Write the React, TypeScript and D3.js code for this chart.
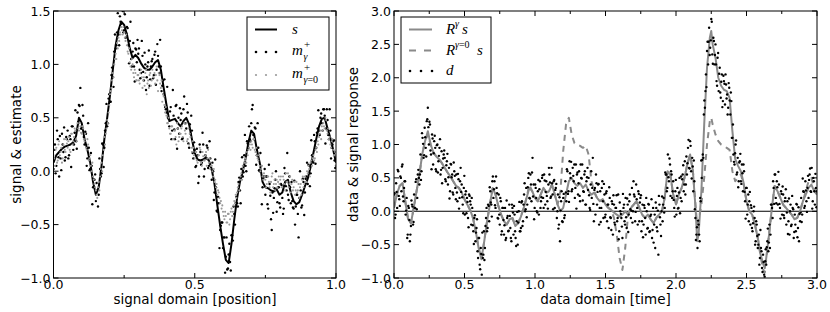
import React from "react";
import * as d3 from "d3";

// ---------- Left panel: signal s on [0,1] (101 grid values) ----------
const signalS = [
  0.08, 0.15, 0.18, 0.21, 0.23, 0.24, 0.25, 0.27, 0.33, 0.5,
  0.45, 0.3, 0.2, 0.08, -0.1, -0.22, -0.15, 0.05, 0.3, 0.5,
  0.71, 0.95, 1.18, 1.32, 1.4, 1.37, 1.28, 1.15, 1.06, 1.09,
  1.06, 1.01, 0.97, 0.95, 0.95, 0.98, 1.02, 1.04, 0.95, 0.78,
  0.62, 0.47, 0.48, 0.49, 0.45, 0.42, 0.47, 0.5, 0.44, 0.3,
  0.17, 0.11, 0.1, 0.11, 0.13, 0.1, 0.02, -0.12, -0.32, -0.51,
  -0.68, -0.83, -0.86, -0.68, -0.45, -0.25, -0.1, 0.0, 0.12, 0.27,
  0.38, 0.35, 0.2, 0.08, -0.1, -0.15, -0.16, -0.18, -0.19, -0.17,
  -0.22, -0.2, -0.1, -0.08, -0.2, -0.28, -0.31, -0.29, -0.22, -0.14,
  -0.07, 0.04, 0.17, 0.3, 0.42, 0.49, 0.5, 0.4, 0.31, 0.2,
  0.08,
];

// m_gamma^+ estimate, at t = i/200 (201 values)
const mGamma = [
  0.02, 0.25, 0.05, 0.3, -0.05, 0.12, 0.35, 0.18, 0.1, 0.32,
  0.38, 0.15, 0.3, 0.42, 0.2, 0.36, 0.28, 0.55, 0.62, 0.78,
  0.4, 0.52, 0.25, 0.35, 0.12, 0.22, 0.02, 0.05, -0.15, -0.08,
  -0.28, -0.18, -0.22, 0.02, -0.02, 0.25, 0.22, 0.45, 0.42, 0.68,
  0.65, 0.9, 0.88, 1.12, 1.15, 1.3, 1.28, 1.45, 1.38, 1.5,
  1.32, 1.25, 1.35, 1.18, 1.22, 1.05, 1.12, 0.98, 1.15, 1.02,
  1.1, 0.95, 0.92, 1.08, 0.85, 1.0, 0.88, 1.02, 0.8, 0.98,
  1.05, 0.9, 1.12, 0.95, 1.08, 0.92, 0.98, 0.8, 0.72, 0.6,
  0.55, 0.5, 0.42, 0.6, 0.38, 0.52, 0.3, 0.62, 0.4, 0.35,
  0.48, 0.3, 0.58, 0.45, 0.4, 0.55, 0.22, 0.35, 0.38, 0.12,
  0.2, 0.05, 0.15, -0.05, 0.18, 0.08, 0.25, 0.02, 0.12, 0.22,
  0.05, 0.12, -0.08, 0.0, -0.2, -0.15, -0.38, -0.3, -0.55, -0.48,
  -0.72, -0.62, -0.8, -0.92, -0.78, -0.85, -0.6, -0.65, -0.4, -0.3,
  -0.3, -0.1, -0.18, 0.02, -0.05, 0.15, 0.05, 0.28, 0.22, 0.3,
  0.45, 0.62, 0.3, 0.4, 0.15, 0.22, 0.0, 0.05, -0.15, -0.05,
  -0.22, -0.05, -0.35, -0.12, -0.45, -0.2, -0.25, -0.08, -0.38, -0.15,
  -0.3, -0.12, -0.25, -0.35, -0.02, -0.18, -0.22, -0.05, -0.3, -0.28,
  -0.35, -0.5, -0.22, -0.4, -0.25, -0.18, -0.32, -0.1, -0.2, -0.05,
  -0.12, 0.05, -0.02, 0.15, 0.08, 0.28, 0.22, 0.4, 0.38, 0.5,
  0.45, 0.58, 0.52, 0.4, 0.48, 0.3, 0.38, 0.22, 0.28, 0.1,
  0.05,
];
// m_gamma^+ estimate, at t = (i+0.5)/200 (200 values)
const mGammaMid = [
  0.2, -0.02, 0.38, 0.13, 0.33, 0.01, 0.25, 0.41, 0.13, 0.3,
  0.12, 0.33, 0.04, 0.42, 0.25, 0.57, 0.21, 0.46, 0.61, 0.4,
  0.62, 0.32, 0.37, 0.05, 0.45, 0.01, 0.17, -0.31, -0.08, -0.03,
  -0.11, -0.33, 0.12, -0.05, 0.26, 0.04, 0.38, 0.63, 0.45, 0.72,
  0.65, 0.97, 0.79, 1.28, 1.18, 1.48, 1.18, 1.4, 1.52, 1.3,
  1.47, 1.29, 1.34, 1.01, 1.4, 0.98, 1.2, 0.84, 1.14, 1.23,
  1.15, 0.87, 1.22, 0.93, 1.11, 0.76, 0.98, 1.13, 0.86, 1.03,
  0.87, 1.09, 0.81, 1.19, 0.98, 1.23, 0.75, 0.85, 0.86, 0.58,
  0.79, 0.49, 0.56, 0.3, 0.76, 0.39, 0.61, 0.21, 0.5, 0.59,
  0.54, 0.31, 0.7, 0.45, 0.63, 0.26, 0.44, 0.52, 0.17, 0.27,
  0.04, 0.21, -0.11, 0.25, 0.06, 0.36, -0.05, 0.15, 0.24, 0.03,
  0.28, 0.02, 0.08, -0.27, 0.11, -0.37, -0.24, -0.72, -0.51, -0.48,
  -0.62, -0.95, -0.62, -0.91, -0.68, -0.93, -0.6, -0.33, -0.5, -0.24,
  -0.33, -0.06, -0.3, 0.13, -0.01, 0.34, 0.0, 0.26, 0.42, 0.28,
  0.58, 0.34, 0.41, 0.06, 0.45, 0.01, 0.17, -0.31, -0.07, 0.02,
  -0.05, -0.31, 0.06, -0.23, -0.55, -0.39, -0.16, 0.0, -0.29, -0.15,
  -0.34, -0.13, -0.4, 0.03, -0.14, 0.17, -0.27, -0.15, -0.1, -0.34,
  -0.09, -0.33, -0.22, -0.62, 0.0, -0.34, -0.07, -0.41, -0.07, 0.08,
  0.06, -0.14, 0.29, 0.09, 0.34, 0.07, 0.36, 0.57, 0.34, 0.54,
  0.38, 0.58, 0.26, 0.58, 0.34, 0.58, 0.12, 0.25, 0.29, 0.03,
];

// m_{gamma=0}^+ estimate, at t = i/200 (201 values)
const mGamma0 = [
  0.15, 0.05, 0.22, 0.1, 0.28, 0.18, 0.08, 0.25, 0.2, 0.3,
  0.22, 0.32, 0.18, 0.35, 0.28, 0.4, 0.3, 0.45, 0.38, 0.42,
  0.35, 0.4, 0.28, 0.22, 0.3, 0.1, 0.15, 0.0, -0.05, -0.12,
  -0.18, -0.25, -0.1, -0.05, 0.08, 0.15, 0.32, 0.35, 0.48, 0.55,
  0.72, 0.78, 0.92, 1.0, 1.1, 1.2, 1.25, 1.3, 1.35, 1.28,
  1.3, 1.22, 1.18, 1.1, 1.02, 0.95, 1.0, 0.88, 0.92, 0.85,
  0.9, 0.82, 0.95, 0.78, 0.88, 0.92, 0.72, 0.85, 0.9, 0.8,
  0.95, 0.88, 0.82, 0.98, 0.75, 0.9, 0.78, 0.65, 0.7, 0.55,
  0.52, 0.45, 0.4, 0.35, 0.42, 0.3, 0.38, 0.25, 0.4, 0.32,
  0.35, 0.42, 0.28, 0.38, 0.45, 0.3, 0.25, 0.32, 0.18, 0.22,
  0.12, 0.18, 0.08, 0.15, 0.2, 0.05, 0.14, 0.1, 0.18, 0.12,
  0.08, 0.02, 0.05, -0.05, -0.1, -0.15, -0.22, -0.2, -0.3, -0.35,
  -0.38, -0.45, -0.42, -0.48, -0.4, -0.45, -0.35, -0.38, -0.28, -0.22,
  -0.2, -0.12, -0.08, -0.02, 0.05, 0.08, 0.12, 0.18, 0.2, 0.25,
  0.28, 0.22, 0.3, 0.18, 0.15, 0.1, 0.05, 0.02, -0.05, -0.02,
  -0.08, -0.12, -0.05, -0.15, -0.1, -0.02, -0.12, -0.18, -0.08, -0.1,
  -0.12, -0.05, -0.15, -0.08, -0.18, -0.1, -0.02, -0.12, -0.2, -0.08,
  -0.15, -0.22, -0.1, -0.18, -0.25, -0.12, -0.08, -0.15, -0.05, -0.1,
  -0.02, 0.02, 0.08, 0.05, 0.15, 0.12, 0.22, 0.28, 0.32, 0.38,
  0.42, 0.45, 0.4, 0.48, 0.35, 0.3, 0.25, 0.28, 0.2, 0.15,
  0.05,
];
// m_{gamma=0}^+ estimate, at t = (i+0.5)/200 (200 values)
const mGamma0Mid = [
  0.12, 0.2, 0.08, 0.25, 0.15, 0.22, 0.12, 0.3, 0.18, 0.26,
  0.28, 0.2, 0.35, 0.25, 0.32, 0.38, 0.28, 0.4, 0.45, 0.36,
  0.42, 0.3, 0.35, 0.2, 0.25, 0.12, 0.05, 0.08, -0.08, -0.15,
  -0.22, -0.15, -0.18, 0.02, 0.0, 0.2, 0.25, 0.4, 0.45, 0.62,
  0.75, 0.85, 0.88, 1.05, 1.05, 1.15, 1.22, 1.28, 1.32, 1.35,
  1.25, 1.28, 1.12, 1.15, 0.98, 1.05, 0.92, 0.95, 0.85, 0.9,
  0.85, 0.92, 0.88, 0.85, 0.8, 0.95, 0.82, 0.78, 0.92, 0.85,
  0.88, 0.92, 0.9, 0.85, 0.92, 0.82, 0.85, 0.72, 0.62, 0.6,
  0.45, 0.5, 0.35, 0.42, 0.3, 0.38, 0.32, 0.45, 0.28, 0.35,
  0.4, 0.32, 0.45, 0.35, 0.28, 0.4, 0.35, 0.22, 0.28, 0.15,
  0.18, 0.1, 0.15, 0.22, 0.08, 0.18, 0.1, 0.15, 0.05, 0.2,
  0.12, 0.05, 0.0, 0.02, -0.08, -0.12, -0.18, -0.25, -0.28, -0.32,
  -0.42, -0.38, -0.48, -0.4, -0.5, -0.38, -0.42, -0.32, -0.3, -0.25,
  -0.15, -0.18, -0.05, -0.08, 0.02, 0.1, 0.08, 0.15, 0.22, 0.2,
  0.25, 0.3, 0.2, 0.22, 0.12, 0.15, 0.0, 0.05, -0.08, -0.05,
  -0.15, -0.05, -0.1, -0.2, -0.05, -0.15, -0.08, -0.12, -0.15, -0.05,
  -0.08, -0.15, -0.05, -0.12, -0.02, -0.1, -0.15, -0.05, -0.12, -0.18,
  -0.1, -0.18, -0.2, -0.12, -0.15, -0.22, -0.05, -0.12, -0.1, 0.0,
  0.05, -0.05, 0.1, 0.12, 0.1, 0.2, 0.18, 0.25, 0.35, 0.3,
  0.38, 0.42, 0.5, 0.38, 0.4, 0.32, 0.22, 0.3, 0.15, 0.18,
];

// ---------- Right panel: responses on [0,3] ----------
const respGamma: [number, number][] = [
  [0, 0.05], [0.02, 0.25], [0.04, 0.38], [0.06, 0.42], [0.08, 0.15], [0.1, -0.12], [0.12, -0.18], [0.14, 0.05],
  [0.16, 0.3], [0.18, 0.55], [0.2, 0.85], [0.22, 1.05], [0.24, 1.2], [0.26, 1.0], [0.28, 0.88], [0.3, 0.82],
  [0.32, 0.78], [0.34, 0.72], [0.36, 0.65], [0.38, 0.58], [0.4, 0.52], [0.42, 0.45], [0.44, 0.38], [0.46, 0.35],
  [0.48, 0.28], [0.5, 0.18], [0.52, 0.1], [0.54, 0.02], [0.56, -0.1], [0.58, -0.3], [0.6, -0.55], [0.62, -0.72],
  [0.64, -0.45], [0.66, -0.15], [0.68, 0.1], [0.7, 0.35], [0.72, 0.25], [0.74, 0.08], [0.76, -0.05], [0.78, -0.15],
  [0.8, -0.2], [0.82, -0.12], [0.84, -0.1], [0.86, -0.22], [0.88, -0.18], [0.9, -0.08], [0.92, 0.05], [0.94, 0.2],
  [0.96, 0.35], [0.98, 0.3], [1.0, 0.2], [1.02, 0.15], [1.04, 0.25], [1.06, 0.35], [1.08, 0.28], [1.1, 0.3],
  [1.12, 0.4], [1.14, 0.25], [1.16, 0.1], [1.18, 0.0], [1.2, 0.05], [1.22, 0.25], [1.24, 0.45], [1.26, 0.5],
  [1.28, 0.42], [1.3, 0.38], [1.32, 0.42], [1.34, 0.35], [1.36, 0.4], [1.38, 0.3], [1.4, 0.25], [1.42, 0.28],
  [1.44, 0.2], [1.46, 0.15], [1.48, 0.18], [1.5, 0.1], [1.52, 0.05], [1.54, 0.02], [1.56, -0.02], [1.58, -0.05],
  [1.6, -0.08], [1.62, -0.05], [1.64, 0.0], [1.66, -0.05], [1.68, 0.05], [1.7, 0.1], [1.72, 0.15], [1.74, 0.05],
  [1.76, -0.05], [1.78, -0.1], [1.8, -0.05], [1.82, -0.12], [1.84, -0.18], [1.86, -0.1], [1.88, -0.05], [1.9, 0.0],
  [1.92, 0.2], [1.94, 0.6], [1.96, 0.55], [1.98, 0.25], [2.0, 0.1], [2.02, 0.25], [2.04, 0.35], [2.06, 0.5],
  [2.08, 0.7], [2.1, 0.85], [2.12, 0.6], [2.14, 0.0], [2.15, -0.45], [2.16, -0.35], [2.18, 0.3], [2.2, 1.3],
  [2.22, 2.15], [2.24, 2.6], [2.25, 2.7], [2.26, 2.5], [2.28, 2.3], [2.3, 2.0], [2.32, 1.88], [2.34, 1.82],
  [2.36, 1.8], [2.38, 1.7], [2.4, 1.2], [2.42, 0.78], [2.44, 0.68], [2.46, 0.6], [2.48, 0.42], [2.5, 0.15],
  [2.52, 0.0], [2.54, -0.05], [2.56, -0.2], [2.58, -0.4], [2.6, -0.65], [2.62, -0.8], [2.63, -0.85], [2.64, -0.7],
  [2.66, -0.35], [2.68, 0.05], [2.7, 0.38], [2.72, 0.3], [2.74, 0.2], [2.76, 0.1], [2.78, 0.05], [2.8, 0.0],
  [2.82, -0.05], [2.84, -0.12], [2.86, -0.1], [2.88, 0.0], [2.9, 0.15], [2.92, 0.25], [2.94, 0.35], [2.96, 0.4],
  [2.98, 0.3], [3.0, 0.25],
];

const respGamma0: [number, number][] = [
  [0, 0.05], [0.02, 0.25], [0.04, 0.38], [0.06, 0.42], [0.08, 0.15], [0.1, -0.12], [0.12, -0.18], [0.14, 0.05],
  [0.16, 0.3], [0.18, 0.55], [0.2, 0.85], [0.22, 1.05], [0.24, 1.15], [0.26, 1.0], [0.28, 0.88], [0.3, 0.82],
  [0.32, 0.78], [0.34, 0.72], [0.36, 0.65], [0.38, 0.58], [0.4, 0.52], [0.42, 0.45], [0.44, 0.38], [0.46, 0.35],
  [0.48, 0.28], [0.5, 0.18], [0.52, 0.1], [0.54, 0.02], [0.56, -0.1], [0.58, -0.3], [0.6, -0.55], [0.62, -0.72],
  [0.64, -0.45], [0.66, -0.15], [0.68, 0.1], [0.7, 0.35], [0.72, 0.25], [0.74, 0.08], [0.76, -0.05], [0.78, -0.15],
  [0.8, -0.2], [0.82, -0.12], [0.84, -0.1], [0.86, -0.22], [0.88, -0.18], [0.9, -0.08], [0.92, 0.05], [0.94, 0.2],
  [0.96, 0.4], [0.98, 0.3], [1.0, 0.2], [1.02, 0.15], [1.04, 0.25], [1.06, 0.35], [1.08, 0.28], [1.1, 0.3],
  [1.12, 0.4], [1.14, 0.25], [1.16, 0.1], [1.18, 0.3], [1.2, 0.9], [1.22, 1.3], [1.24, 1.4], [1.26, 1.15],
  [1.28, 1.02], [1.3, 1.0], [1.32, 0.98], [1.34, 0.95], [1.36, 0.98], [1.38, 0.85], [1.4, 0.45], [1.42, 0.3],
  [1.44, 0.2], [1.46, 0.15], [1.48, 0.18], [1.5, 0.1], [1.52, 0.05], [1.54, 0.02], [1.56, -0.1], [1.58, -0.35],
  [1.6, -0.7], [1.62, -0.88], [1.64, -0.55], [1.66, -0.05], [1.68, 0.05], [1.7, 0.1], [1.72, 0.15], [1.74, 0.05],
  [1.76, -0.05], [1.78, -0.1], [1.8, -0.05], [1.82, -0.12], [1.84, -0.18], [1.86, -0.1], [1.88, -0.05], [1.9, 0.0],
  [1.92, 0.2], [1.94, 0.6], [1.96, 0.55], [1.98, 0.25], [2.0, 0.1], [2.02, 0.25], [2.04, 0.35], [2.06, 0.5],
  [2.08, 0.7], [2.1, 0.85], [2.12, 0.6], [2.14, 0.05], [2.15, -0.2], [2.16, -0.15], [2.18, 0.1], [2.2, 0.5],
  [2.22, 1.0], [2.24, 1.35], [2.25, 1.4], [2.26, 1.3], [2.28, 1.15], [2.3, 1.05], [2.32, 1.0], [2.34, 0.98],
  [2.36, 0.95], [2.38, 0.92], [2.4, 0.6], [2.42, 0.45], [2.44, 0.5], [2.46, 0.55], [2.48, 0.4], [2.5, 0.15],
  [2.52, 0.0], [2.54, -0.05], [2.56, -0.2], [2.58, -0.4], [2.6, -0.68], [2.62, -0.88], [2.63, -0.92], [2.64, -0.72],
  [2.66, -0.35], [2.68, 0.05], [2.7, 0.38], [2.72, 0.3], [2.74, 0.2], [2.76, 0.1], [2.78, 0.05], [2.8, 0.0],
  [2.82, -0.05], [2.84, -0.12], [2.86, -0.1], [2.88, 0.0], [2.9, 0.15], [2.92, 0.3], [2.94, 0.45], [2.96, 0.5],
  [2.98, 0.35], [3.0, 0.25],
];

// data d, at t = 3*i/400 (401 values)
const dataD = [
  0.25, -0.1, 0.42, 0.05, 0.6, 0.18, 0.52, 0.3,
  0.7, 0.15, 0.45, -0.05, 0.2, -0.35, 0.05, -0.45,
  -0.22, 0.1, -0.2, 0.25, 0.05, 0.48, 0.2, 0.62,
  0.4, 0.85, 0.6, 1.1, 0.8, 1.25, 0.95, 1.35,
  1.55, 1.0, 1.3, 0.85, 1.15, 0.7, 1.05, 0.95,
  0.6, 1.0, 0.75, 0.95, 0.55, 0.9, 0.65, 0.85,
  0.8, 0.45, 0.75, 0.4, 0.65, 0.3, 0.7, 0.55,
  0.25, 0.6, 0.35, 0.55, 0.15, 0.48, 0.2, 0.65,
  0.4, 0.1, 0.35, -0.05, 0.3, 0.2, -0.1, 0.25,
  0.15, -0.2, 0.05, -0.3, -0.1, -0.45, -0.25, -0.6,
  -0.4, -0.8, -0.55, -0.95, -0.7, -0.3, -0.55, -0.1,
  -0.3, 0.1, -0.15, 0.3, 0.1, 0.45, 0.2, 0.45,
  0.05, 0.35, -0.1, 0.25, -0.2, 0.15, -0.3, 0.05,
  -0.35, 0.05, -0.4, -0.1, -0.3, 0.1, -0.25, -0.45,
  0.05, -0.35, -0.05, -0.4, -0.15, -0.5, 0.0, -0.3,
  -0.25, 0.15, -0.15, 0.25, 0.0, 0.35, 0.1, 0.5,
  0.2, 0.55, 0.15, 0.8, 0.4, 0.05, 0.35, 0.0,
  0.3, -0.05, 0.45, 0.15, 0.5, 0.2, 0.55, 0.1,
  0.45, 0.15, 0.4, 0.55, 0.2, 0.65, 0.25, 0.45,
  0.05, 0.35, -0.1, 0.25, -0.2, -0.45, 0.15, -0.15,
  0.2, -0.1, 0.45, 0.15, 0.6, 0.3, 0.75, 0.5,
  0.3, 0.65, 0.45, 0.2, 0.7, 0.55, 0.25, 0.6,
  0.15, 0.5, 0.7, 0.3, 0.55, 0.1, 0.45, 0.65,
  0.5, 0.05, 0.4, 0.2, 0.8, -0.15, 0.35, 0.55,
  0.1, 0.4, -0.2, 0.3, 0.05, 0.45, -0.1, 0.25,
  -0.05, 0.3, 0.1, -0.25, 0.2, -0.1, 0.15, -0.35,
  0.1, -0.2, 0.05, -0.15, 0.25, -0.3, 0.0, -0.1,
  -0.4, 0.05, -0.15, 0.2, -0.25, 0.1, -0.05, 0.25,
  -0.1, 0.35, 0.0, 0.25, -0.15, 0.4, 0.05, 0.3,
  -0.15, 0.2, -0.3, 0.1, -0.2, 0.05, -0.35, 0.0,
  -0.25, 0.1, -0.3, -0.05, -0.4, 0.05, -0.2, -0.55,
  0.05, -0.3, -0.65, 0.1, -0.2, 0.0, -0.15, 0.2,
  0.05, 0.55, 0.3, 0.85, 0.45, 0.7, 0.6, 0.2,
  0.45, 0.05, 0.3, -0.05, 0.35, 0.05, 0.5, 0.2,
  0.15, 0.55, 0.3, 0.75, 0.4, 0.55, 0.95, 0.65,
  1.05, 0.6, 0.8, 0.3, 0.45, -0.1, -0.35, -0.55,
  -0.2, -0.45, 0.15, 0.5, 0.85, 1.45, 1.55, 2.05,
  2.4, 2.2, 2.75, 2.45, 2.88, 2.35, 2.6, 2.2,
  2.5, 1.95, 2.3, 1.8, 2.15, 1.7, 2.05, 1.65,
  1.95, 1.6, 1.9, 1.75, 1.55, 1.85, 1.45, 1.65,
  1.1, 0.85, 0.7, 1.0, 0.55, 0.8, 0.45, 0.75,
  0.45, 0.7, 0.3, 0.6, 0.15, 0.35, -0.05, 0.25,
  0.15, -0.2, 0.05, -0.3, 0.0, -0.1, -0.45, -0.2,
  -0.55, -0.35, -0.7, -0.55, -0.85, -0.65, -0.95, -0.75,
  -0.8, -0.45, -0.6, -0.2, -0.35, 0.1, -0.1, 0.35,
  0.55, 0.2, 0.45, 0.1, 0.4, 0.05, 0.3, -0.05,
  0.25, -0.1, 0.2, -0.2, 0.15, -0.15, -0.35, 0.1,
  -0.2, 0.05, -0.4, -0.05, -0.3, 0.1, -0.25, -0.45,
  -0.15, 0.2, -0.05, 0.3, 0.05, 0.45, 0.15, 0.35,
  0.2, 0.55, 0.3, 0.65, 0.15, 0.45, 0.1, 0.35,
  0.3,
];
// data d, at t = 3*(i+0.5)/400 (400 values)
const dataDMid = [
  0.27, -0.05, 0.29, 0.62, 0.23, 0.08, 0.5, 0.67,
  0.22, 0.35, 0.45, 0.01, -0.4, 0.08, -0.13, -0.35,
  0.16, 0.07, -0.16, 0.05, 0.44, 0.03, 0.55, 0.5,
  0.55, 0.47, 1.17, 1.01, 0.84, 1.11, 0.82, 1.38,
  1.26, 1.34, 0.91, 0.63, 1.09, 0.87, 1.13, 0.63,
  0.99, 0.58, 0.83, 1.08, 0.62, 0.42, 0.79, 0.91,
  0.48, 0.69, 0.86, 0.51, 0.19, 0.71, 0.51, 0.28,
  0.73, 0.53, 0.18, 0.28, 0.56, 0.04, 0.45, 0.29,
  0.21, -0.03, 0.53, 0.25, -0.03, 0.14, -0.24, 0.23,
  0.1, 0.2, -0.21, -0.49, -0.06, -0.32, -0.12, -0.7,
  -0.4, -0.87, -0.64, -0.32, -0.65, -0.73, -0.22, 0.05,
  -0.25, 0.08, 0.36, 0.13, -0.08, 0.52, 0.33, 0.09,
  0.52, 0.27, -0.11, -0.05, 0.2, -0.35, 0.05, -0.13,
  -0.21, -0.43, 0.16, -0.07, -0.29, -0.07, -0.4, 0.1,
  -0.02, 0.08, -0.3, -0.52, -0.01, -0.17, 0.14, -0.3,
  0.13, -0.22, 0.1, 0.42, 0.03, -0.09, 0.36, 0.57,
  0.19, 0.4, 0.58, 0.22, -0.12, 0.4, 0.2, -0.02,
  0.47, 0.33, 0.05, 0.21, 0.54, 0.05, 0.46, 0.29,
  0.23, 0.04, 0.65, 0.43, 0.22, 0.42, 0.03, 0.47,
  0.32, 0.41, 0.0, -0.26, 0.21, 0.01, 0.3, -0.16,
  0.26, -0.06, 0.28, 0.63, 0.26, 0.14, 0.57, 0.74,
  0.33, 0.53, 0.7, 0.35, 0.04, 0.58, 0.42, 0.23,
  0.7, 0.49, 0.16, 0.29, 0.6, 0.1, 0.51, 0.32,
  0.24, 0.02, 0.6, 0.35, 0.11, 0.32, -0.05, 0.42,
  0.29, 0.41, 0.05, -0.16, 0.35, 0.15, 0.41, -0.09,
  0.27, -0.15, 0.1, 0.36, -0.09, -0.28, 0.11, 0.24,
  -0.17, 0.05, 0.24, -0.1, -0.42, 0.13, -0.04, -0.23,
  0.26, 0.1, -0.2, -0.09, 0.19, -0.31, 0.15, 0.03,
  0.01, -0.17, 0.45, 0.22, -0.01, 0.18, -0.2, 0.26,
  0.13, 0.24, -0.15, -0.39, 0.09, -0.1, 0.2, -0.26,
  0.11, -0.31, -0.07, 0.18, -0.28, -0.47, -0.05, 0.13,
  -0.24, 0.01, 0.23, -0.09, -0.37, 0.22, 0.1, -0.02,
  0.58, 0.55, 0.35, 0.51, 0.79, 0.23, 0.55, 0.3,
  0.17, -0.08, 0.47, 0.23, 0.04, 0.28, -0.03, 0.52,
  0.48, 0.69, 0.4, 0.25, 0.82, 0.72, 1.07, 0.64,
  0.98, 0.49, 0.67, 0.76, 0.03, -0.43, -0.24, -0.14,
  -0.35, 0.2, 0.76, 0.77, 0.8, 1.66, 1.8, 1.86,
  2.54, 2.54, 2.34, 2.56, 2.84, 2.21, 2.55, 2.34,
  2.2, 1.88, 2.37, 2.06, 1.78, 1.94, 1.56, 2.03,
  1.91, 2.05, 1.69, 1.45, 1.92, 1.66, 1.78, 1.1,
  1.3, 0.74, 0.87, 1.06, 0.58, 0.36, 0.73, 0.86,
  0.41, 0.57, 0.7, 0.29, -0.11, 0.35, 0.1, -0.15,
  0.29, 0.09, -0.25, -0.18, 0.07, -0.5, -0.15, -0.37,
  -0.5, -0.8, -0.28, -0.6, -0.91, -0.76, -0.98, -0.57,
  -0.54, -0.26, -0.47, -0.55, 0.1, 0.05, 0.45, 0.11,
  0.55, 0.12, 0.36, 0.59, 0.11, -0.11, 0.26, 0.37,
  -0.06, 0.15, 0.33, -0.02, -0.34, 0.19, 0.0, -0.22,
  0.23, 0.03, -0.31, -0.2, 0.11, -0.39, 0.06, -0.04,
  -0.02, -0.16, 0.49, 0.29, 0.08, 0.31, -0.01, 0.53,
  0.47, 0.64, 0.29, 0.04, 0.5, 0.3, 0.56, 0.06,
];

// ---------- ticks ----------
const leftXTicks = [0, 0.25, 0.5, 0.75, 1.0];
const leftYTicks = [-1, -0.5, 0, 0.5, 1, 1.5];
const rightXTicks = [0, 0.25, 0.5, 0.75, 1, 1.25, 1.5, 1.75, 2, 2.25, 2.5, 2.75, 3];
const rightYTicks = [-1, -0.5, 0, 0.5, 1, 1.5, 2, 2.5, 3];

const FONT = "DejaVu Sans, sans-serif";
const MATH = "Liberation Serif, DejaVu Serif, serif";
const fmt = (v: number) => d3.format(".1f")(v).replace("-", "\u2212");
const isMajor = (v: number) => Math.abs(v * 2 - Math.round(v * 2)) < 1e-6;

type AxProps = {
  x: d3.ScaleLinear<number, number>;
  y: d3.ScaleLinear<number, number>;
  xTicks: number[];
  yTicks: number[];
};

function Frame({ x, y, xTicks, yTicks }: AxProps) {
  const [X0, X1] = x.range();
  const [Y1, Y0] = y.range();
  const maj = 5, mnr = 3;
  return (
    <g>
      {xTicks.map((t) => {
        const L = isMajor(t) ? maj : mnr;
        const px = x(t);
        return (
          <g key={"x" + t}>
            <line x1={px} x2={px} y1={Y1} y2={Y1 - L} stroke="#000" strokeWidth={1} />
            <line x1={px} x2={px} y1={Y0} y2={Y0 + L} stroke="#000" strokeWidth={1} />
            {isMajor(t) && (
              <text x={px} y={Y1 + 11} fontSize={12.5} fontFamily={FONT} textAnchor="middle" fill="#000">
                {fmt(t)}
              </text>
            )}
          </g>
        );
      })}
      {yTicks.map((t) => {
        const py = y(t);
        return (
          <g key={"y" + t}>
            <line x1={X0} x2={X0 + maj} y1={py} y2={py} stroke="#000" strokeWidth={1} />
            <line x1={X1} x2={X1 - maj} y1={py} y2={py} stroke="#000" strokeWidth={1} />
            <text x={X0 - 3} y={py} dy="0.36em" fontSize={12.5} fontFamily={FONT} textAnchor="end" fill="#000">
              {fmt(t)}
            </text>
          </g>
        );
      })}
      <rect x={X0} y={Y0} width={X1 - X0} height={Y1 - Y0} fill="none" stroke="#000" strokeWidth={1} />
    </g>
  );
}

export default function App() {
  const xL = d3.scaleLinear().domain([0, 1]).range([53.5, 336]);
  const yL = d3.scaleLinear().domain([-1, 1.5]).range([278, 11]);
  const xR = d3.scaleLinear().domain([0, 3]).range([394, 817]);
  const yR = d3.scaleLinear().domain([-1, 3]).range([278, 11]);

  const sLine = d3
    .line<number>()
    .x((_, i) => xL(i / (signalS.length - 1)))
    .y((v) => yL(v));
  const rLine = d3
    .line<[number, number]>()
    .x((d) => xR(d[0]))
    .y((d) => yR(d[1]));

  const onGrid = (i: number) => i / 200;
  const onMid = (i: number) => (i + 0.5) / 200;
  const dGrid = (i: number) => (3 * i) / 400;
  const dMid = (i: number) => (3 * (i + 0.5)) / 400;

  const BLACK_R = 1.2;
  const GRAY_R = 1.05;
  const GRAY = "#9a9a9a";

  return (
    <svg width={830} height={312} style={{ position: "absolute", left: 0, top: 0, background: "#fff" }}>
      <defs>
        <clipPath id="clipL">
          <rect x={53.5} y={11} width={336 - 53.5} height={267} />
        </clipPath>
        <clipPath id="clipR">
          <rect x={394} y={11} width={817 - 394} height={267} />
        </clipPath>
      </defs>
      <rect x={0} y={0} width={830} height={312} fill="#fff" />

      {/* ---------- Left panel ---------- */}
      <g clipPath="url(#clipL)">
        <path d={sLine(signalS) || ""} fill="none" stroke="#000" strokeWidth={2} strokeLinejoin="round" />
        {mGamma.map((v, i) => (
          <circle key={"mg" + i} cx={xL(onGrid(i))} cy={yL(v)} r={BLACK_R} fill="#000" />
        ))}
        {mGammaMid.map((v, i) => (
          <circle key={"mgm" + i} cx={xL(onMid(i))} cy={yL(v)} r={BLACK_R} fill="#000" />
        ))}
        {mGamma0.map((v, i) => (
          <circle key={"m0" + i} cx={xL(onGrid(i))} cy={yL(v)} r={GRAY_R} fill={GRAY} />
        ))}
        {mGamma0Mid.map((v, i) => (
          <circle key={"m0m" + i} cx={xL(onMid(i))} cy={yL(v)} r={GRAY_R} fill={GRAY} />
        ))}
      </g>
      <Frame x={xL} y={yL} xTicks={leftXTicks} yTicks={leftYTicks} />
      <text x={195} y={304} fontSize={13.5} fontFamily={FONT} textAnchor="middle">
        signal domain [position]
      </text>
      <text transform="translate(21,144.5) rotate(-90)" fontSize={13.5} fontFamily={FONT} textAnchor="middle">
        signal &amp; estimate
      </text>

      {/* left legend */}
      <g>
        <rect x={247} y={17} width={82} height={73} fill="#fff" stroke="#000" strokeWidth={1} />
        <line x1={255} x2={277} y1={29.5} y2={29.5} stroke="#000" strokeWidth={2} />
        <text x={292} y={34} fontSize={15} fontFamily={MATH} fontStyle="italic">s</text>
        {[256, 266, 276].map((px) => (
          <circle key={"lg1" + px} cx={px} cy={52} r={1.3} fill="#000" />
        ))}
        <text x={292} y={55} fontSize={15} fontFamily={MATH} fontStyle="italic">m</text>
        <text x={304} y={48} fontSize={11} fontFamily={MATH}>+</text>
        <text x={303.5} y={60} fontSize={10} fontFamily={MATH} fontStyle="italic">γ</text>
        {[256, 266, 276].map((px) => (
          <circle key={"lg2" + px} cx={px} cy={75} r={1.1} fill={GRAY} />
        ))}
        <text x={292} y={77.5} fontSize={15} fontFamily={MATH} fontStyle="italic">m</text>
        <text x={304} y={70.5} fontSize={11} fontFamily={MATH}>+</text>
        <text x={303.5} y={83} fontSize={10} fontFamily={MATH}>
          <tspan fontStyle="italic">γ</tspan>=0
        </text>
      </g>

      {/* ---------- Right panel ---------- */}
      <g clipPath="url(#clipR)">
        <line x1={xR(0)} x2={xR(3)} y1={yR(0)} y2={yR(0)} stroke="#000" strokeWidth={1} />
        <path d={rLine(respGamma) || ""} fill="none" stroke="#8a8a8a" strokeWidth={2} strokeLinejoin="round" />
        <path
          d={rLine(respGamma0) || ""}
          fill="none"
          stroke="#8a8a8a"
          strokeWidth={2}
          strokeDasharray="6,5"
          strokeLinejoin="round"
        />
        {dataD.map((v, i) => (
          <circle key={"d" + i} cx={xR(dGrid(i))} cy={yR(v)} r={BLACK_R} fill="#000" />
        ))}
        {dataDMid.map((v, i) => (
          <circle key={"dm" + i} cx={xR(dMid(i))} cy={yR(v)} r={BLACK_R} fill="#000" />
        ))}
      </g>
      <Frame x={xR} y={yR} xTicks={rightXTicks} yTicks={rightYTicks} />
      <text x={605.5} y={304} fontSize={13.5} fontFamily={FONT} textAnchor="middle">
        data domain [time]
      </text>
      <text transform="translate(358,144.5) rotate(-90)" fontSize={13.5} fontFamily={FONT} textAnchor="middle">
        data &amp; signal response
      </text>

      {/* right legend */}
      <g>
        <rect x={401} y={17} width={90} height={66} fill="#fff" stroke="#000" strokeWidth={1} />
        <line x1={409} x2={432} y1={29.5} y2={29.5} stroke="#8a8a8a" strokeWidth={2} />
        <text x={446} y={34} fontSize={15} fontFamily={MATH} fontStyle="italic">R</text>
        <text x={455} y={27} fontSize={10} fontFamily={MATH} fontStyle="italic">γ</text>
        <text x={462} y={34} fontSize={15} fontFamily={MATH} fontStyle="italic">s</text>
        <line x1={409} x2={432} y1={50.5} y2={50.5} stroke="#8a8a8a" strokeWidth={2} strokeDasharray="7,8" />
        <text x={446} y={55} fontSize={15} fontFamily={MATH} fontStyle="italic">R</text>
        <text x={455} y={48} fontSize={10} fontFamily={MATH}>
          <tspan fontStyle="italic">γ</tspan>=0
        </text>
        <text x={477} y={55} fontSize={15} fontFamily={MATH} fontStyle="italic">s</text>
        {[410, 421, 432].map((px) => (
          <circle key={"lg3" + px} cx={px} cy={71} r={1.3} fill="#000" />
        ))}
        <text x={446} y={75} fontSize={15} fontFamily={MATH} fontStyle="italic">d</text>
      </g>
    </svg>
  );
}
